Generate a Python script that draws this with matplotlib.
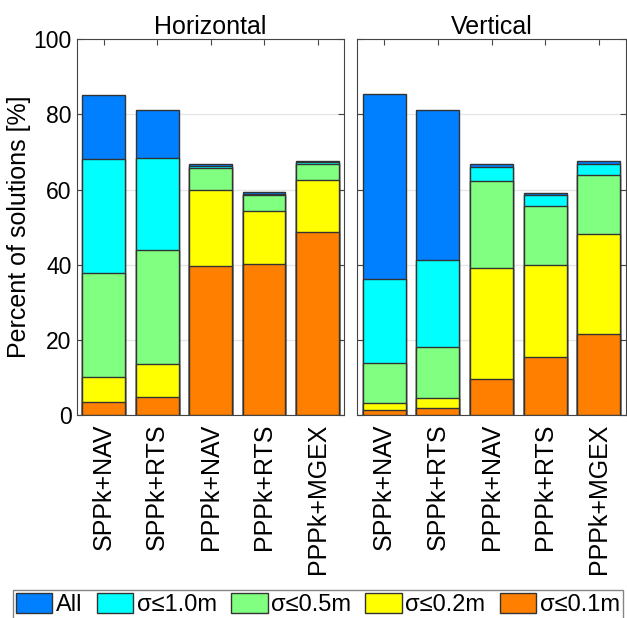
import matplotlib
matplotlib.use('Agg')
import matplotlib.pyplot as plt
import numpy as np
from matplotlib.patches import Patch

plt.rcParams['font.family'] = ['Liberation Sans', 'DejaVu Sans']

methods = ['SPPk+NAV', 'SPPk+RTS', 'PPPk+NAV', 'PPPk+RTS', 'PPPk+MGEX']
levels = ['All', 'σ≤1.0m', 'σ≤0.5m', 'σ≤0.2m', 'σ≤0.1m']
colors = ['#0080FF', '#00FFFF', '#80FF80', '#FFFF00', '#FF8000']

# cumulative percent of solutions, one list per level
horiz_all = [85.2, 81.3, 66.8, 59.3, 67.6]
horiz_1m = [68.1, 68.5, 66.3, 58.9, 67.2]
horiz_05m = [37.9, 43.8, 65.8, 58.5, 66.7]
horiz_02m = [10.2, 13.7, 59.9, 54.3, 62.6]
horiz_01m = [3.4, 4.7, 39.7, 40.1, 48.6]

vert_all = [85.3, 81.3, 66.8, 59.2, 67.6]
vert_1m = [36.1, 41.3, 65.9, 58.6, 66.8]
vert_05m = [13.8, 18.0, 62.2, 55.6, 64.0]
vert_02m = [3.3, 4.5, 39.2, 39.8, 48.1]
vert_01m = [1.2, 1.8, 9.7, 15.4, 21.6]

fig = plt.figure(figsize=(6.27, 6.18), dpi=100)
ax1 = fig.add_axes([0.123, 0.3285, 0.426, 0.608])
ax2 = fig.add_axes([0.570, 0.3285, 0.428, 0.608])

x = np.arange(1, len(methods) + 1)
panels = [(ax1, 'Horizontal', [horiz_all, horiz_1m, horiz_05m, horiz_02m, horiz_01m]),
          (ax2, 'Vertical', [vert_all, vert_1m, vert_05m, vert_02m, vert_01m])]

for ax, title, series in panels:
    for vals, c in zip(series, colors):
        ax.bar(x, vals, width=0.8, color=c, edgecolor='#333333', linewidth=1.0, zorder=3)
    ax.set_xlim(0.5, 5.5)
    ax.set_ylim(0, 100)
    ax.set_xticks(x)
    ax.set_xticklabels(methods, rotation=90, fontsize=18)
    ax.set_yticks([0, 20, 40, 60, 80, 100])
    ax.yaxis.grid(True, color='#e6e6e6', linewidth=1.0, zorder=0)
    ax.tick_params(direction='in', top=True, right=True, length=4, color='#444444',
                   labelsize=16.5, pad=4)
    ax.tick_params(axis='x', labelsize=18, pad=6)
    for s in ax.spines.values():
        s.set_color('#444444')
    ax.set_title(title, fontsize=18, pad=4)

ax1.set_ylabel('Percent of solutions [%]', fontsize=18, labelpad=2)
ax2.set_yticklabels([])

handles = [Patch(facecolor=c, edgecolor='#333333', label=l) for c, l in zip(colors, levels)]
fig.legend(handles=handles, loc='upper left', bbox_to_anchor=(13 / 627, 1 - 590 / 618), ncol=5,
           fontsize=17, frameon=True, fancybox=False, edgecolor='#666666',
           handlelength=1.55, handleheight=0.95, handletextpad=0.15, columnspacing=0.6,
           borderpad=0.12, borderaxespad=0.0)

fig.savefig('out.png', dpi=100)
